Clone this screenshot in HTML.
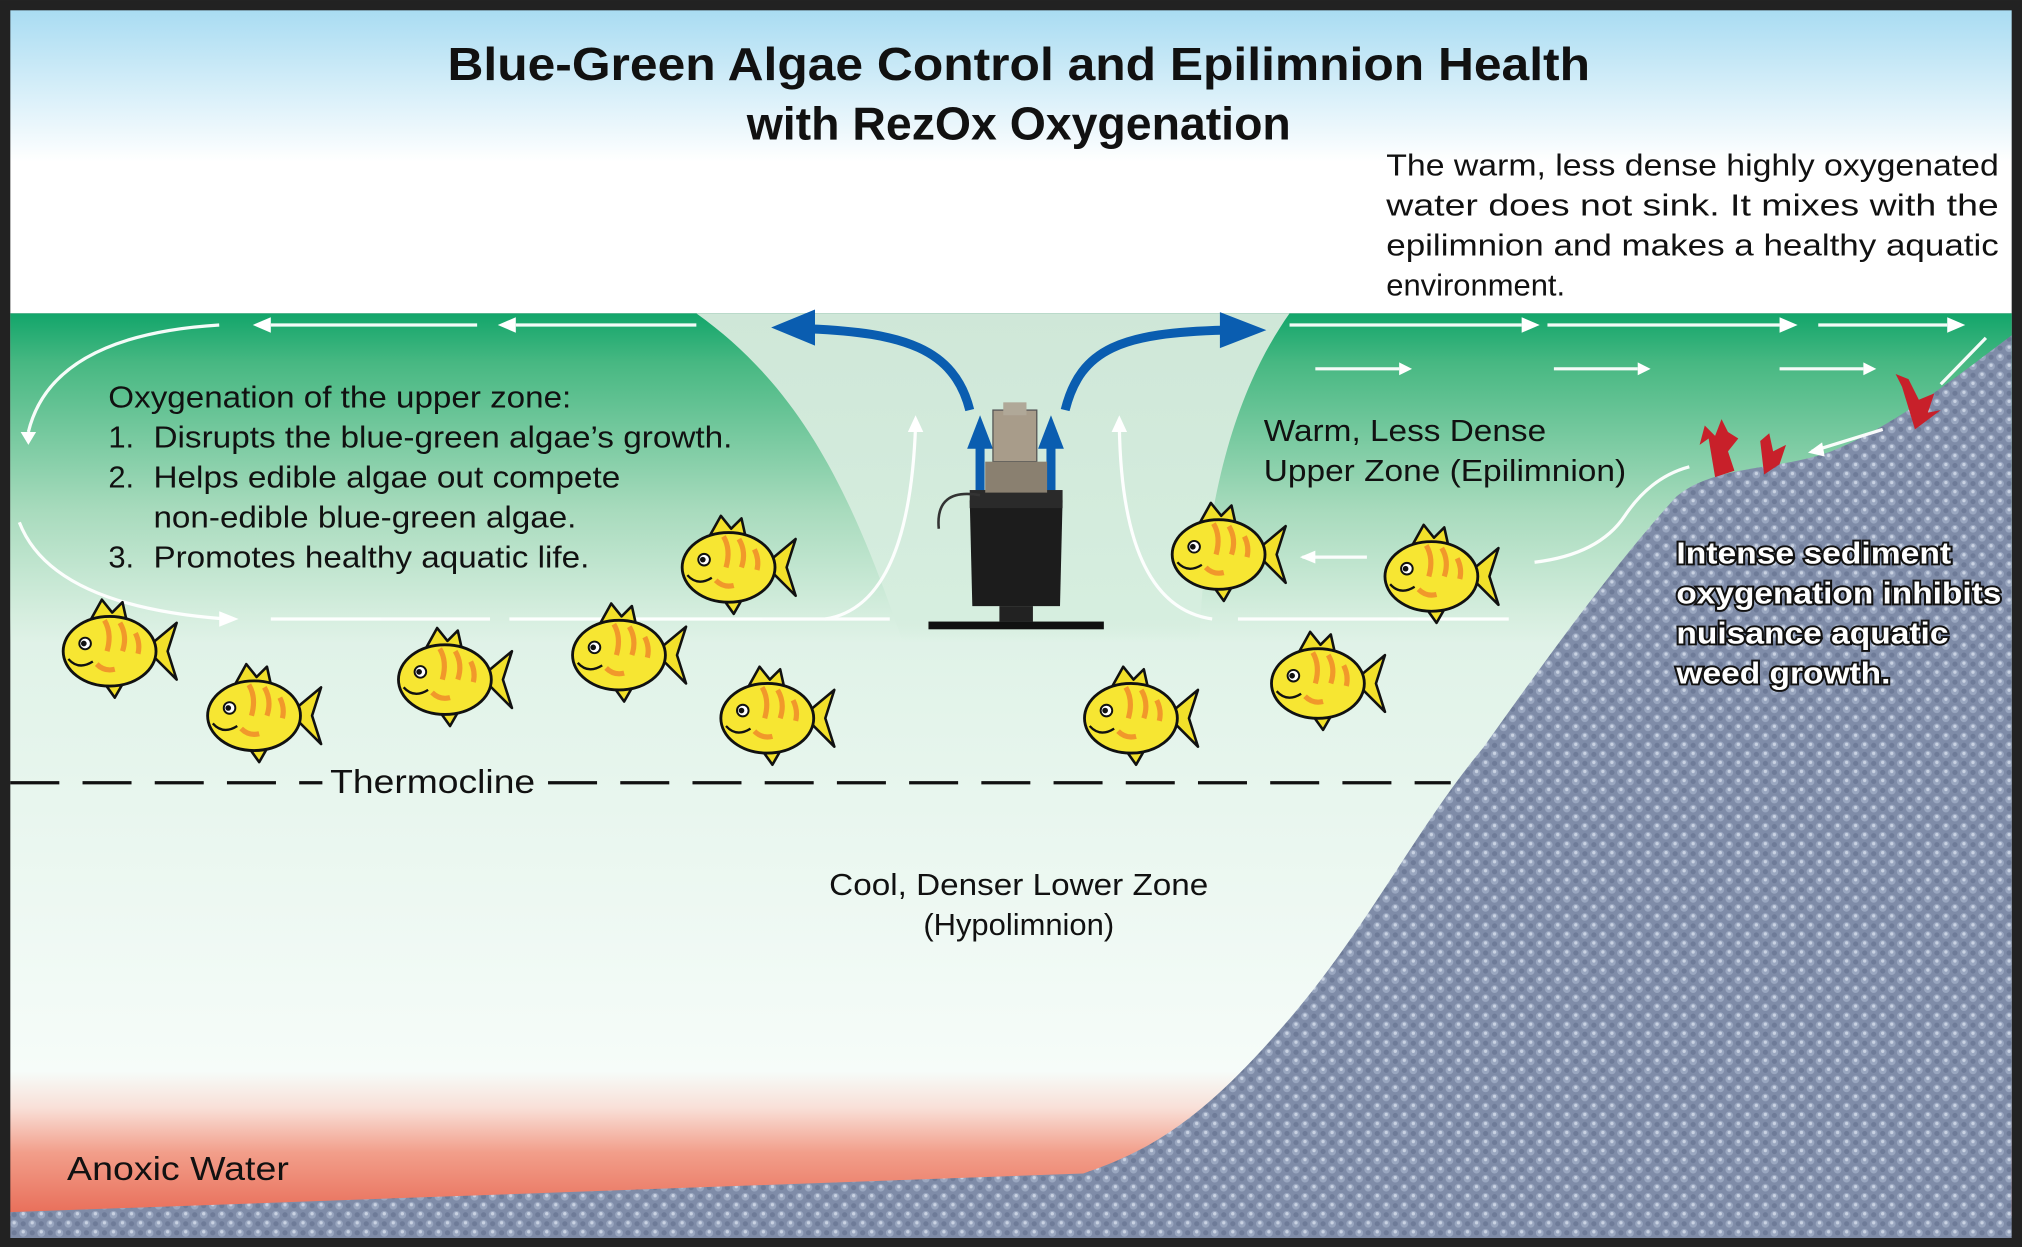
<!DOCTYPE html>
<html><head><meta charset="utf-8"><style>
html,body{margin:0;padding:0;background:#fff;}
svg{display:block;}
text{font-family:"Liberation Sans",Arial,sans-serif;}
</style></head><body>
<svg width="2022" height="1247" viewBox="0 0 1568 967" xmlns="http://www.w3.org/2000/svg">
<defs>
<linearGradient id="sky" x1="0" y1="0" x2="0" y2="1">
<stop offset="0" stop-color="#a9dcf2"/><stop offset="0.5" stop-color="#ffffff"/><stop offset="1" stop-color="#ffffff"/></linearGradient>
<linearGradient id="epi" x1="0" y1="0" x2="0" y2="1">
<stop offset="0" stop-color="#12a56a"/><stop offset="0.15" stop-color="#47b882"/><stop offset="0.6" stop-color="#a8dbbd"/><stop offset="0.92" stop-color="#d6eedf"/><stop offset="1" stop-color="#d6eedf" stop-opacity="0"/></linearGradient>
<linearGradient id="hypo" x1="0" y1="0" x2="0" y2="1">
<stop offset="0" stop-color="#d6eedf"/><stop offset="0.35" stop-color="#dff2e7"/><stop offset="0.84" stop-color="#f6fcf9"/><stop offset="0.88" stop-color="#f9e0d8"/><stop offset="0.93" stop-color="#f29e8a"/><stop offset="1" stop-color="#e86d58"/></linearGradient>
<linearGradient id="vort" x1="0" y1="0" x2="0" y2="1">
<stop offset="0" stop-color="#cfe7d8"/><stop offset="0.9" stop-color="#d6eedf"/><stop offset="1" stop-color="#d6eedf" stop-opacity="0"/></linearGradient>
<pattern id="sed" width="14" height="14" patternUnits="userSpaceOnUse">
<rect width="14" height="14" fill="#7f8ca8"/>
<circle cx="4" cy="4" r="3" fill="#9aa7c0"/><circle cx="4" cy="3.2" r="1.3" fill="#c9d2e2"/>
<circle cx="11" cy="11" r="3" fill="#9aa7c0"/><circle cx="11" cy="10.2" r="1.3" fill="#c9d2e2"/>
<circle cx="11" cy="4" r="2" fill="#6e7b98"/><circle cx="4" cy="11" r="2" fill="#6e7b98"/>
</pattern>
<g id="fish">
<path d="M28,-2 L52,-22 L45,0 L52,22 Z" fill="#f2e02a" stroke="#111" stroke-width="2" stroke-linejoin="round"/>
<path d="M-16,-22 L-6,-40 L2,-30 L10,-38 L14,-20 Z" fill="#f2e02a" stroke="#111" stroke-width="2" stroke-linejoin="round"/>
<path d="M-6,22 L4,36 L12,22 Z" fill="#f2e02a" stroke="#111" stroke-width="2" stroke-linejoin="round"/>
<ellipse cx="0" cy="0" rx="36" ry="27" fill="#f7e632" stroke="#111" stroke-width="2.2"/>
<path d="M-4,-24 q6,10 2,24 M8,-22 q6,10 2,22 M20,-14 q4,8 2,16 M-10,10 q6,6 14,4" stroke="#f08a2a" stroke-width="4" fill="none" opacity="0.85"/>
<circle cx="-19" cy="-6" r="4.5" fill="#fff" stroke="#111" stroke-width="1.5"/><circle cx="-20" cy="-6" r="2.2" fill="#111"/>
<path d="M-32,6 q8,9 19,2" stroke="#111" stroke-width="1.8" fill="none"/>
</g>
</defs>
<rect width="1568" height="967" fill="#222"/>
<rect x="8" y="8" width="1552" height="235" fill="url(#sky)"/>
<rect x="8" y="243" width="1552" height="700" fill="url(#hypo)"/>
<rect x="8" y="243" width="1552" height="255" fill="url(#epi)"/>
<path d="M540,243 C620,300 660,380 700,498 L930,498 C935,380 960,300 1000,243 Z" fill="url(#vort)"/>
<path d="M8,940 L840,910 C900,890 940,860 1000,790 C1060,720 1100,640 1150,580 C1200,510 1250,440 1300,385 C1330,360 1380,365 1420,350 C1470,330 1520,290 1560,260 L1560,960 L8,960 Z" fill="url(#sed)"/>
<line x1="8" y1="607" x2="250" y2="607" stroke="#111" stroke-width="2.5" stroke-dasharray="38,18"/>
<line x1="425" y1="607" x2="1125" y2="607" stroke="#111" stroke-width="2.5" stroke-dasharray="38,18"/>
<text x="256" y="615" font-size="26" fill="#111" textLength="159" lengthAdjust="spacingAndGlyphs">Thermocline</text>
<g stroke="#fff" stroke-width="2.5" fill="none" opacity="0.95">
<path d="M170,252 Q40,260 22,335"/>
<path d="M15,405 Q40,470 175,480"/>
<line x1="210" y1="252" x2="370" y2="252"/><line x1="400" y1="252" x2="540" y2="252"/>
<line x1="210" y1="480" x2="380" y2="480"/><line x1="395" y1="480" x2="690" y2="480"/>
<line x1="960" y1="480" x2="1170" y2="480"/>
<line x1="1000" y1="252" x2="1180" y2="252"/><line x1="1200" y1="252" x2="1380" y2="252"/><line x1="1410" y1="252" x2="1510" y2="252"/>
<line x1="1020" y1="286" x2="1085" y2="286"/><line x1="1205" y1="286" x2="1270" y2="286"/><line x1="1380" y1="286" x2="1445" y2="286"/>
<line x1="1010" y1="432" x2="1060" y2="432"/>
<path d="M1190,436 Q1240,430 1260,400 Q1280,370 1310,362"/>
<line x1="1405" y1="350" x2="1460" y2="333"/>
<line x1="1505" y1="298" x2="1540" y2="262"/>
<path d="M640,480 Q705,470 710,330"/><path d="M940,480 Q870,470 868,330"/>
</g>
<g fill="#fff">
<path d="M16,335 L22,345 L28,335 Z"/><path d="M170,474 L185,480 L170,486 Z"/>
<path d="M210,246 L196,252 L210,258 Z"/><path d="M400,246 L386,252 L400,258 Z"/>
<path d="M1180,246 L1194,252 L1180,258 Z"/><path d="M1380,246 L1394,252 L1380,258 Z"/><path d="M1510,246 L1524,252 L1510,258 Z"/>
<path d="M1085,281 L1095,286 L1085,291 Z"/><path d="M1270,281 L1280,286 L1270,291 Z"/><path d="M1445,281 L1455,286 L1445,291 Z"/>
<path d="M1020,427 L1008,432 L1020,437 Z"/><path d="M1413,343 L1402,351 L1415,354 Z"/>
<path d="M704,335 L710,322 L716,335 Z"/><path d="M862,335 L868,322 L874,335 Z"/>
</g>
<g fill="#c8202a">
<path d="M1330,370 L1325,340 L1318,345 L1322,330 L1330,338 L1335,325 L1340,335 L1348,340 L1340,350 L1345,365 Z"/>
<path d="M1368,368 L1365,342 L1372,336 L1375,350 L1385,345 L1380,360 Z"/>
<path d="M1485,333 L1475,300 L1470,290 L1480,294 L1488,310 L1500,305 L1495,320 L1505,318 Z"/>
</g>
<g stroke="#0a5db0" stroke-width="7" fill="none">
<path d="M752,318 C740,270 700,258 628,255"/>
<path d="M826,318 C838,270 870,258 950,256"/>
<line x1="760" y1="390" x2="760" y2="345"/><line x1="815" y1="390" x2="815" y2="345"/>
</g>
<g fill="#0a5db0">
<path d="M632,240 L598,254 L632,268 Z"/><path d="M946,242 L982,256 L946,270 Z"/>
<path d="M750,348 L760,322 L770,348 Z"/><path d="M805,348 L815,322 L825,348 Z"/>
</g>
<rect x="770" y="318" width="34" height="40" fill="#a89c8a" stroke="#555"/>
<rect x="778" y="312" width="18" height="10" fill="#b0a898"/>
<path d="M752,388 L824,388 L822,470 L754,470 Z" fill="#1c1c1c"/>
<rect x="752" y="380" width="72" height="14" fill="#2a2a2a"/>
<rect x="764" y="358" width="48" height="24" fill="#8a8070"/>
<path d="M760,384 Q725,378 728,410" stroke="#333" stroke-width="2" fill="none"/>
<rect x="720" y="482" width="136" height="6" fill="#111"/>
<rect x="775" y="470" width="26" height="12" fill="#222"/>
<use href="#fish" transform="translate(85,505)"/>
<use href="#fish" transform="translate(197,555)"/>
<use href="#fish" transform="translate(345,527)"/>
<use href="#fish" transform="translate(480,508)"/>
<use href="#fish" transform="translate(565,440)"/>
<use href="#fish" transform="translate(595,557)"/>
<use href="#fish" transform="translate(945,430)"/>
<use href="#fish" transform="translate(1110,447)"/>
<use href="#fish" transform="translate(877,557)"/>
<use href="#fish" transform="translate(1022,530)"/>
<text x="790" y="62" font-size="36" font-weight="bold" text-anchor="middle" fill="#111" textLength="886" lengthAdjust="spacingAndGlyphs">Blue-Green Algae Control and Epilimnion Health</text>
<text x="790" y="108" font-size="36" font-weight="bold" text-anchor="middle" fill="#111">with RezOx Oxygenation</text>
<g font-size="24" fill="#111">
<text x="1075" y="136" textLength="475" lengthAdjust="spacingAndGlyphs">The warm, less dense highly oxygenated</text>
<text x="1075" y="167" textLength="475" lengthAdjust="spacingAndGlyphs">water does not sink. It mixes with the</text>
<text x="1075" y="198" textLength="475" lengthAdjust="spacingAndGlyphs">epilimnion and makes a healthy aquatic</text>
<text x="1075" y="229">environment.</text>
<text x="84" y="316" textLength="359" lengthAdjust="spacingAndGlyphs">Oxygenation of the upper zone:</text>
<text x="84" y="347">1.</text><text x="119" y="347" textLength="449" lengthAdjust="spacingAndGlyphs">Disrupts the blue-green algae’s growth.</text>
<text x="84" y="378">2.</text><text x="119" y="378" textLength="362" lengthAdjust="spacingAndGlyphs">Helps edible algae out compete</text>
<text x="119" y="409" textLength="328" lengthAdjust="spacingAndGlyphs">non-edible blue-green algae.</text>
<text x="84" y="440">3.</text><text x="119" y="440" textLength="338" lengthAdjust="spacingAndGlyphs">Promotes healthy aquatic life.</text>
<text x="980" y="342" textLength="219" lengthAdjust="spacingAndGlyphs">Warm, Less Dense</text>
<text x="980" y="373" textLength="281" lengthAdjust="spacingAndGlyphs">Upper Zone (Epilimnion)</text>
<text x="790" y="694" text-anchor="middle" textLength="294" lengthAdjust="spacingAndGlyphs">Cool, Denser Lower Zone</text>
<text x="790" y="725" text-anchor="middle">(Hypolimnion)</text>
<text x="52" y="915" font-size="26" textLength="172" lengthAdjust="spacingAndGlyphs">Anoxic Water</text>
</g>
<g font-size="24" font-weight="bold" fill="#fff" stroke="#111" stroke-width="3" paint-order="stroke">
<text x="1300" y="437" textLength="213" lengthAdjust="spacingAndGlyphs">Intense sediment</text>
<text x="1300" y="468" textLength="252" lengthAdjust="spacingAndGlyphs">oxygenation inhibits</text>
<text x="1300" y="499" textLength="211" lengthAdjust="spacingAndGlyphs">nuisance aquatic</text>
<text x="1300" y="530" textLength="166" lengthAdjust="spacingAndGlyphs">weed growth.</text>
</g>
</svg>
</body></html>
